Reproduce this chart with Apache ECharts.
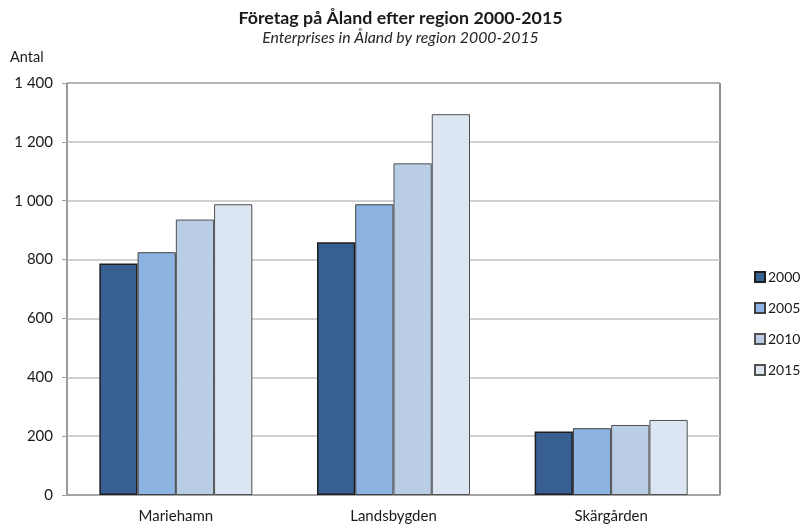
<!DOCTYPE html>
<html><head><meta charset="utf-8">
<script src="https://cdn.jsdelivr.net/npm/echarts@6/dist/echarts.min.js"></script>
<style>html,body{margin:0;padding:0;background:#fff}#c{width:801px;height:525px}</style>
</head><body><div id="c"></div>
<script>
const categories = ['Mariehamn', 'Landsbygden', 'Skärgården'];
const years = ['2000', '2005', '2010', '2015'];
const v2000 = [787, 859, 216];
const v2005 = [825, 988, 227];
const v2010 = [936, 1127, 238];
const v2015 = [988, 1294, 255];
const seriesValues = [v2000, v2005, v2010, v2015];
const yTicks = [0, 200, 400, 600, 800, 1000, 1200, 1400];

const colors = ['#375f91', '#8db3e2', '#b9cde5', '#dce6f2'];
const borders = ['#1f1f1f', '#404040', '#505050', '#505050'];
const FONT = 'Lato';

const chart = echarts.init(document.getElementById('c'), null, {renderer: 'canvas'});
chart.setOption({
  animation: false,
  textStyle: {fontFamily: FONT},
  title: {
    text: 'Företag på Åland efter region 2000-2015',
    subtext: 'Enterprises in Åland by region 2000-2015',
    left: 'center', top: 4, itemGap: 3,
    textStyle: {fontFamily: FONT, fontSize: 17.8, fontWeight: 'bold', color: '#1a1a1a'},
    subtextStyle: {fontFamily: FONT, fontSize: 15.8, fontStyle: 'italic', color: '#262626'}
  },
  legend: {
    orient: 'vertical', left: 754, top: 270, itemGap: 17, padding: 0,
    itemWidth: 10, itemHeight: 10, icon: 'rect',
    textStyle: {fontFamily: FONT, fontSize: 14, color: '#1a1a1a', padding: [0, 0, 0, -2]},
    data: years
  },
  grid: {left: 67, right: 81, top: 83, bottom: 30, show: true, borderColor: '#1f1f1f', borderWidth: 1},
  xAxis: {
    type: 'category', data: categories,
    axisLine: {lineStyle: {color: '#a0a0a0', width: 1.5}},
    axisTick: {show: false},
    axisLabel: {fontFamily: FONT, fontSize: 15, color: '#1a1a1a', margin: 14}
  },
  yAxis: {
    type: 'value', min: yTicks[0], max: yTicks[yTicks.length - 1], interval: 200,
    name: 'Antal', nameLocation: 'end', nameGap: 18,
    nameTextStyle: {fontFamily: FONT, fontSize: 14.5, color: '#1a1a1a', align: 'left', padding: [0, 0, 0, -57]},
    axisLine: {show: true, lineStyle: {color: '#a0a0a0', width: 1.5}},
    axisTick: {show: true, length: 5, lineStyle: {color: '#a0a0a0'}},
    splitLine: {lineStyle: {color: '#c0c0c0', width: 1.5}},
    axisLabel: {fontFamily: FONT, fontSize: 15, color: '#1a1a1a', margin: 14,
      formatter: v => String(v).replace(/\B(?=(\d{3})+(?!\d))/g, ' ')}
  },
  series: years.map((y, i) => ({
    name: y, type: 'bar', data: seriesValues[i],
    barGap: '0%', barCategoryGap: '29.7%',
    itemStyle: {color: colors[i], borderColor: borders[i], borderWidth: i === 0 ? 1.5 : 1}
  }))
});
</script></body></html>
